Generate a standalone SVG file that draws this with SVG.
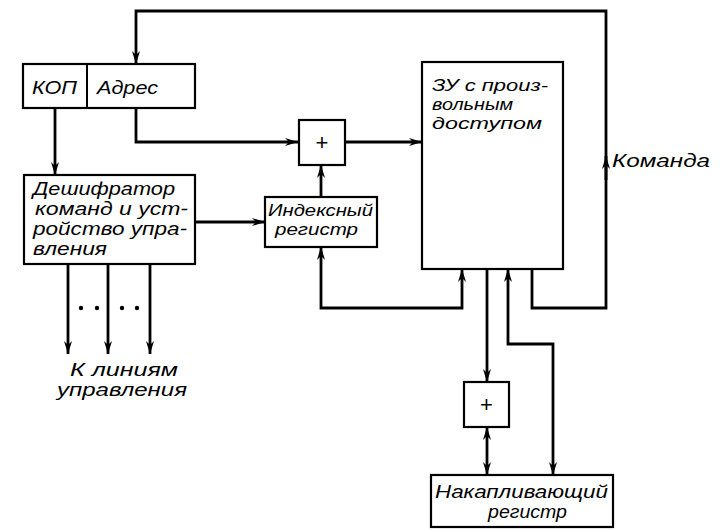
<svg xmlns="http://www.w3.org/2000/svg" width="724" height="530" viewBox="0 0 724 530">
<defs>
<marker id="arr" markerUnits="userSpaceOnUse" markerWidth="14" markerHeight="10" refX="13" refY="4.5" orient="auto-start-reverse" viewBox="0 0 14 9">
<path d="M0,0.5 L13,4.5 L0,8.5 L4,4.5 Z" fill="#000"/>
</marker>
<style>
.box{fill:#fff;stroke:#000;stroke-width:2.2}
.ln{fill:none;stroke:#000;stroke-width:2.8;stroke-linejoin:miter}
.t{font-family:"Liberation Sans","DejaVu Sans",sans-serif;font-style:italic;font-size:18px;fill:#000}
.s{font-size:16px}
.p{font-family:"Liberation Sans","DejaVu Sans",sans-serif;font-size:22px;fill:#000}
</style>
</defs>
<g id="connectors">
<path class="ln" d="M532,269 V308 H606 V11 H136 V64" marker-end="url(#arr)"/>
<path class="ln" d="M606,180 V156" marker-end="url(#arr)"/>
<path class="ln" d="M136,108 V142 H298" marker-end="url(#arr)"/>
<path class="ln" d="M345,142 H422" marker-end="url(#arr)"/>
<path class="ln" d="M55,108 V175" marker-end="url(#arr)"/>
<path class="ln" d="M195,222 H265" marker-end="url(#arr)"/>
<path class="ln" d="M321,197 V165" marker-end="url(#arr)"/>
<path class="ln" d="M321,247 V308 H462 V269" marker-start="url(#arr)" marker-end="url(#arr)"/>
<path class="ln" d="M487,269 V382" marker-end="url(#arr)"/>
<path class="ln" d="M487,427 V475" marker-start="url(#arr)" marker-end="url(#arr)"/>
<path class="ln" d="M508,269 V344 H553 V475" marker-start="url(#arr)" marker-end="url(#arr)"/>
<path class="ln" d="M68,264 V354" marker-end="url(#arr)"/>
<path class="ln" d="M108,264 V354" marker-end="url(#arr)"/>
<path class="ln" d="M150,264 V354" marker-end="url(#arr)"/>
<circle cx="81" cy="308" r="2.2"/>
<circle cx="97" cy="308" r="2.2"/>
<circle cx="122" cy="308" r="2.2"/>
<circle cx="137" cy="308" r="2.2"/>
</g>
<g id="instr">
<rect class="box" x="23" y="64" width="172" height="44"/>
<line x1="87" y1="64" x2="87" y2="108" stroke="#000" stroke-width="2"/>
<text class="t" x="32" y="94" textLength="45" lengthAdjust="spacingAndGlyphs">КОП</text>
<text class="t" x="97" y="94" textLength="61" lengthAdjust="spacingAndGlyphs">Адрес</text>
</g>
<g id="decoder">
<rect class="box" x="24" y="175" width="171" height="89"/>
<text class="t" x="33" y="195" textLength="142" lengthAdjust="spacingAndGlyphs">Дешифратор</text>
<text class="t" x="35" y="215" textLength="153" lengthAdjust="spacingAndGlyphs">команд и уст-</text>
<text class="t" x="33" y="235" textLength="154" lengthAdjust="spacingAndGlyphs">ройство упра-</text>
<text class="t" x="33" y="255" textLength="74" lengthAdjust="spacingAndGlyphs">вления</text>
</g>
<g id="sum1">
<rect class="box" x="299" y="120" width="46" height="45"/>
<text class="p" x="322" y="150" text-anchor="middle">+</text>
</g>
<g id="index">
<rect class="box" x="265" y="197" width="112" height="50"/>
<text class="t s" x="268" y="216" textLength="105" lengthAdjust="spacingAndGlyphs">Индексный</text>
<text class="t s" x="275" y="235" textLength="83" lengthAdjust="spacingAndGlyphs">регистр</text>
</g>
<g id="memory">
<rect class="box" x="422" y="62" width="141" height="207"/>
<text class="t s" x="432" y="91" textLength="116" lengthAdjust="spacingAndGlyphs">ЗУ с произ-</text>
<text class="t s" x="432" y="110" textLength="81" lengthAdjust="spacingAndGlyphs">вольным</text>
<text class="t s" x="432" y="129" textLength="110" lengthAdjust="spacingAndGlyphs">доступом</text>
</g>
<g id="sum2">
<rect class="box" x="464" y="382" width="45" height="45"/>
<text class="p" x="486.5" y="412" text-anchor="middle">+</text>
</g>
<g id="acc">
<rect class="box" x="431" y="475" width="182" height="52"/>
<text class="t" x="435" y="498" textLength="173" lengthAdjust="spacingAndGlyphs">Накапливающий</text>
<text class="t" x="488" y="518" textLength="79" lengthAdjust="spacingAndGlyphs">регистр</text>
</g>
<g id="labels">
<text class="t" x="612" y="167" textLength="98" lengthAdjust="spacingAndGlyphs">Команда</text>
<text class="t" x="70" y="376" textLength="108" lengthAdjust="spacingAndGlyphs">К линиям</text>
<text class="t" x="57" y="396" textLength="130" lengthAdjust="spacingAndGlyphs">управления</text>
</g>
</svg>
